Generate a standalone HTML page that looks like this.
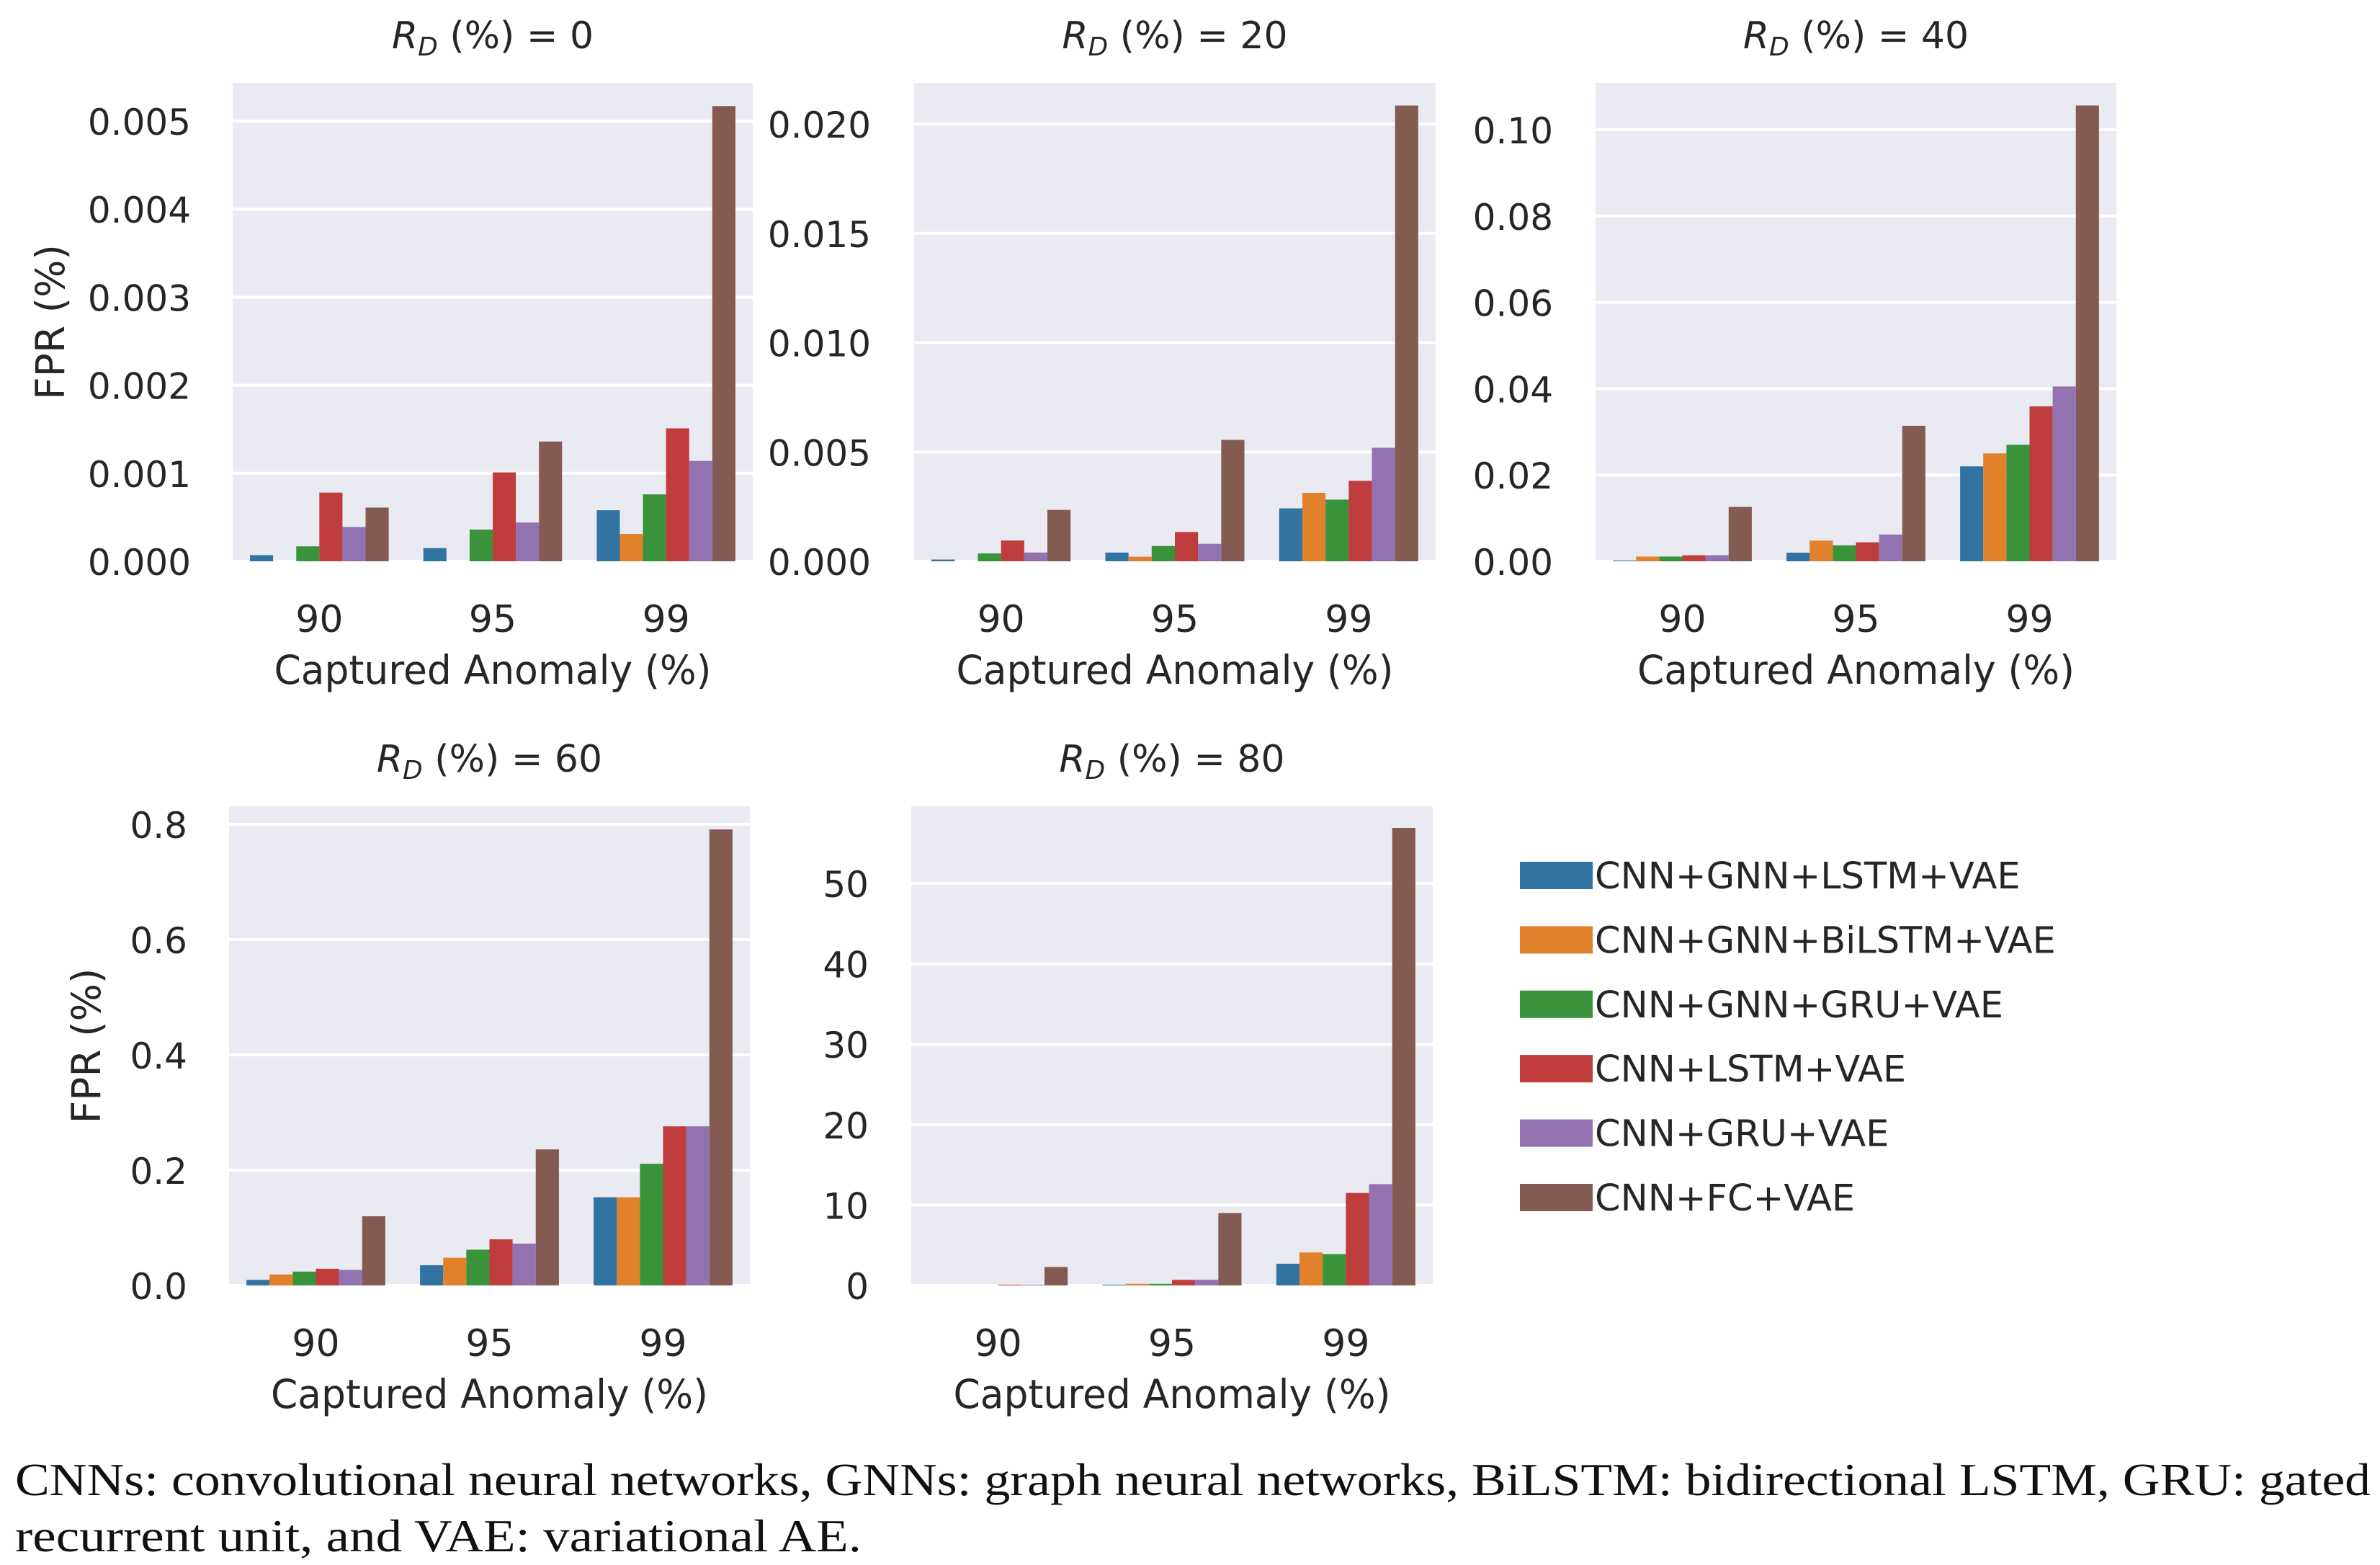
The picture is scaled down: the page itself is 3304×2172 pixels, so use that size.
<!DOCTYPE html>
<html><head><meta charset="utf-8">
<style>
html,body{margin:0;padding:0;background:#fff;}
svg{display:block;}
text{font-family:"DejaVu Sans","Liberation Sans",sans-serif;fill:#262626;}
.cap{font-family:"Liberation Serif","DejaVu Serif",serif;fill:#111;}
</style></head>
<body>
<svg id="fig" width="3304" height="2172" viewBox="0 0 3304 2172" xmlns="http://www.w3.org/2000/svg">
<text class="cap" x="21" y="2075" font-size="64" textLength="3270" lengthAdjust="spacingAndGlyphs">CNNs: convolutional neural networks, GNNs: graph neural networks, BiLSTM: bidirectional LSTM, GRU: gated</text>
<text class="cap" x="21" y="2153" font-size="64" textLength="1175" lengthAdjust="spacingAndGlyphs">recurrent unit, and VAE: variational AE.</text>
</svg>
<script>
const categories = ["90","95","99"];
const seriesNames = ["CNN+GNN+LSTM+VAE","CNN+GNN+BiLSTM+VAE","CNN+GNN+GRU+VAE","CNN+LSTM+VAE","CNN+GRU+VAE","CNN+FC+VAE"];
const colors = ["#3274a1","#e1812c","#3a923a","#c03d3e","#9372b2","#845b53"];
const panelTitles = ["0","20","40","60","80"];
// values[series][category]
const rd0 = [[0.00007,0.00015,0.00058],[0,0,0.00031],[0.00017,0.00036,0.00076],[0.00078,0.00101,0.00151],[0.00039,0.00044,0.00114],[0.00061,0.00136,0.00517]];
const rd20 = [[0.00008,0.0004,0.00242],[0,0.00021,0.00313],[0.00036,0.0007,0.00282],[0.00095,0.00134,0.00368],[0.0004,0.0008,0.00519],[0.00235,0.00555,0.02084]];
const rd40 = [[0.0002,0.002,0.022],[0.0011,0.0048,0.025],[0.0011,0.0037,0.027],[0.0014,0.0044,0.0359],[0.0014,0.0062,0.0405],[0.0126,0.0314,0.1056]];
const rd60 = [[0.0096,0.035,0.153],[0.019,0.048,0.153],[0.024,0.062,0.211],[0.029,0.08,0.276],[0.027,0.0725,0.276],[0.12,0.236,0.791]];
const rd80 = [[0,0.1,2.7],[0,0.2,4.1],[0,0.2,3.9],[0.1,0.7,11.5],[0.1,0.7,12.6],[2.3,9.0,56.9]];
const ticks0 = [0,0.001,0.002,0.003,0.004,0.005];
const ticks20 = [0,0.005,0.010,0.015,0.020];
const ticks40 = [0,0.02,0.04,0.06,0.08,0.10];
const ticks60 = [0,0.2,0.4,0.6,0.8];
const ticks80 = [0,10,20,30,40,50];
const tickLabels0 = ["0.000","0.001","0.002","0.003","0.004","0.005"];
const tickLabels20 = ["0.000","0.005","0.010","0.015","0.020"];
const tickLabels40 = ["0.00","0.02","0.04","0.06","0.08","0.10"];
const tickLabels60 = ["0.0","0.2","0.4","0.6","0.8"];
const tickLabels80 = ["0","10","20","30","40","50"];

const NS="http://www.w3.org/2000/svg";
const svg=document.getElementById('fig');
function mk(tag,attrs,parent){const e=document.createElementNS(NS,tag);for(const k in attrs)e.setAttribute(k,attrs[k]);(parent||svg).appendChild(e);return e;}

const layouts=[
 {x0:323,x1:1045,top:115,bot:779,refV:0.005,refY:168,lab:265,ylab:true,ylx:70},
 {x0:1269,x1:1993,top:115,bot:779,refV:0.020,refY:172,lab:1209,ylab:false},
 {x0:2215,x1:2938,top:115,bot:779,refV:0.10,refY:180,lab:2156,ylab:false},
 {x0:318,x1:1041,top:1119,bot:1784,refV:0.8,refY:1144,lab:260,ylab:true,ylx:120},
 {x0:1265,x1:1989,top:1119,bot:1784,refV:50,refY:1226,lab:1206,ylab:false}
];
const allData=[rd0,rd20,rd40,rd60,rd80];
const allTicks=[ticks0,ticks20,ticks40,ticks60,ticks80];
const allTickLabels=[tickLabels0,tickLabels20,tickLabels40,tickLabels60,tickLabels80];

layouts.forEach((L,p)=>{
  const g=mk('g',{});
  
  
  const yScale=v=>L.bot-(v/L.refV)*(L.bot-L.refY);
  const bw=(L.x1-L.x0)/categories.length;
  const xScale=i=>L.x0+bw*(i+0.5);
  const bg=mk('rect',{x:L.x0,y:L.top,width:L.x1-L.x0,height:L.bot-L.top,fill:'#eaeaf2'},g);
  
  
  allTicks[p].forEach((t,k)=>{
    const y=yScale(t);
    const gl=mk('line',{x1:L.x0,x2:L.x1,y1:y,y2:y,stroke:'#fff','stroke-width':4},g);
    
    
    const tl=mk('text',{x:L.lab,y:y+19,'font-size':50,'text-anchor':'end'},g);
    
    
    tl.textContent=allTickLabels[p][k];
  });
  const data=allData[p];
  const barW=bw*0.8/seriesNames.length;
  data.forEach((vals,s)=>{
    vals.forEach((v,c)=>{
      const x=xScale(c)-bw*0.4+s*barW;
      const y=yScale(v);
      const r=mk('rect',{x:x,y:y,width:barW,height:Math.max(0,L.bot-y),fill:colors[s]},g);
      
      
    });
  });
  categories.forEach((c,i)=>{
    const t=mk('text',{x:xScale(i),y:L.bot+98,'font-size':52,'text-anchor':'middle'},g);
    
    
    t.textContent=c;
  });
  const xl=mk('text',{x:(L.x0+L.x1)/2,y:L.bot+170,'font-size':55,'text-anchor':'middle',textLength:607,lengthAdjust:'spacingAndGlyphs'},g);
  
  
  xl.textContent='Captured Anomaly (%)';
  const tt=mk('text',{x:(L.x0+L.x1)/2,y:L.top-48,'font-size':52,'text-anchor':'middle'},g);
  
  
  const r1=mk('tspan',{'font-style':'italic'},tt);r1.textContent='R';
  const r2=mk('tspan',{'font-style':'italic','font-size':36,dy:10},tt);r2.textContent='D';
  const r3=mk('tspan',{dy:-10},tt);r3.textContent=' (%) = '+panelTitles[p];
  if(L.ylab){
    const cy=(L.top+L.bot)/2;
    const yl=mk('text',{x:L.ylx,y:cy,'font-size':55,'text-anchor':'middle',transform:'rotate(-90 '+L.ylx+' '+cy+')',dy:19},g);
    
    
    yl.textContent='FPR (%)';
  }
});

const lg=mk('g',{});


seriesNames.forEach((n,i)=>{
  const cy=1215+i*89.4;
  const sw=mk('rect',{x:2110,y:cy-19,width:101,height:38,fill:colors[i]},lg);
  
  
  const t=mk('text',{x:2214,y:cy+18,'font-size':51},lg);
  
  
  t.textContent=n;
});
</script>
</body></html>
